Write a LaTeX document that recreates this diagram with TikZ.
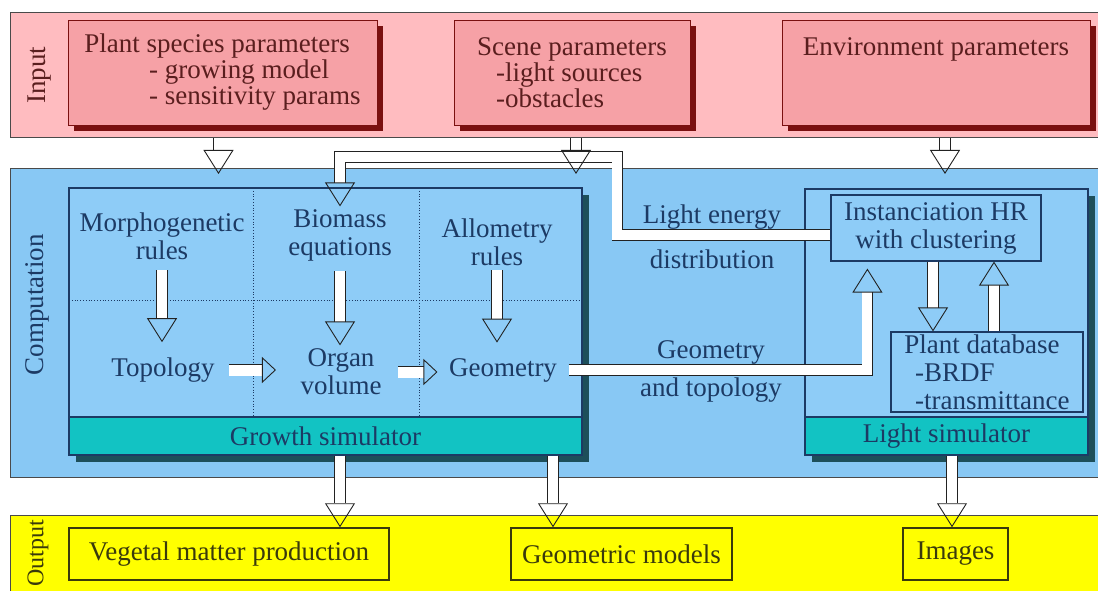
\documentclass[tikz,border=0pt]{standalone}
\usepackage{fontspec}
\setmainfont{Liberation Serif}
\usetikzlibrary{arrows.meta,positioning,shadows}
\definecolor{inpink}{HTML}{FFBCC0}
\definecolor{boxpink}{HTML}{F6A1A6}
\definecolor{boxshadow}{HTML}{7A1010}
\definecolor{inktext}{HTML}{5A1E1E}
\definecolor{compblue}{HTML}{88C8F4}
\definecolor{panelblue}{HTML}{8ECCF7}
\definecolor{navy}{HTML}{1C3A64}
\definecolor{tealshadow}{HTML}{1D4F5A}
\definecolor{simteal}{HTML}{12C3C3}
\definecolor{outyellow}{HTML}{FFFF00}
\definecolor{olive}{HTML}{3A3A0C}
\definecolor{bandline}{HTML}{4A4A4A}
\definecolor{arrowline}{HTML}{222222}
\newcommand{\txt}{\fontsize{27}{28}\selectfont}
\newcommand{\intxt}{\fontsize{27}{26}\selectfont}

\begin{document}
\begin{tikzpicture}[x=1pt,y=-1pt,
  band/.style={draw=bandline, line width=1.2pt, minimum width=1094pt, anchor=north west, inner sep=0pt},
  bandlabel/.style={rotate=90, font=\txt},
  inbox/.style={draw=boxshadow, line width=0.8pt, fill=boxpink, text=inktext, font=\intxt, inner sep=0pt,
    drop shadow={shadow xshift=6pt, shadow yshift=-6pt, fill=boxshadow, opacity=1}},
  panel/.style={draw=navy, line width=1.2pt, fill=panelblue, inner sep=0pt,
    drop shadow={shadow xshift=7pt, shadow yshift=-7pt, fill=tealshadow, opacity=1}},
  simbar/.style={draw=navy, line width=1.2pt, fill=simteal, text=navy, font=\txt, inner sep=0pt},
  plainbox/.style={draw=navy, line width=1.2pt, fill=panelblue, text=navy, font=\txt, inner sep=0pt},
  comptext/.style={text=navy, font=\txt, align=center},
  outbox/.style={draw=olive, line width=1.5pt, text=olive, font=\txt, inner sep=0pt},
  cellline/.style={draw=navy, line width=0.8pt, dotted},
  fatarrow/.style={draw=arrowline, line width=0.9pt, double=white, double distance=10pt, line join=miter,
    -{Triangle[open, length=24pt, width=30pt]}},
  smallarrow/.style={fatarrow, double distance=11pt, -{Triangle[open, length=14pt, width=26pt]}}
]
\useasboundingbox (0,0) rectangle (1098,591);
\clip (0,0) rectangle (1098,591);

%%% bands
\node[band, fill=inpink, minimum height=125pt] (inband) at (10,12) {};
\node[band, fill=compblue, minimum height=309pt] (compband) at (10,168) {};
\node[band, fill=outyellow, minimum height=100pt] (outband) at (10,515) {};
\node[bandlabel, text=inktext] (inlabel) at (40,75) {Input};
\node[bandlabel, text=navy] (complabel) at (37,305) {Computation};
\node[bandlabel, text=olive, font=\fontsize{24}{24}\selectfont, inner sep=0pt] (outlabel) at (38,553) {Output};

%%% input
\node[inbox, align=left, minimum width=309pt, minimum height=105pt] (plant) at (222.5,72.5)
  {Plant species parameters\\\hspace*{2.4em}- growing model\\\hspace*{2.4em}- sensitivity params};
\node[inbox, align=left, minimum width=236pt, minimum height=105pt] (scene) at (572,72.5)
  {Scene parameters\\\hspace*{0.7em}-light sources\\\hspace*{0.7em}-obstacles};
\node[inbox, align=center, minimum width=308pt, minimum height=105pt] (env) at (936,72.5)
  {Environment parameters\\\mbox{}\\\mbox{}};

%%% growth simulator
\node[panel, minimum width=513pt, minimum height=267pt] (growth) at (325.5,321.5) {};
\node[simbar, minimum width=513pt, minimum height=38pt, anchor=south] (growthsim) at (growth.south) {Growth simulator};
\draw[cellline] (253,188) -- (253,417);
\draw[cellline] (419,188) -- (419,417);
\draw[cellline] (69,300) -- (582,300);
\node[comptext] (morph) at (162,236) {Morphogenetic\\rules};
\node[comptext] (biomass) at (340,235) {Biomass\\equations};
\node[comptext] (allom) at (497,242) {Allometry\\rules};
\node[comptext] (topo) at (163,370) {Topology};
\node[comptext] (organ) at (341,372) {Organ\\volume};
\node[comptext] (geom) at (503,370) {Geometry};

%%% light simulator
\node[panel, minimum width=283pt, minimum height=266pt] (light) at (946.5,322) {};
\node[simbar, minimum width=283pt, minimum height=38pt, anchor=south] (lightsim) at (light.south) {Light simulator};
\node[plainbox, align=center, minimum width=210pt, minimum height=66pt] (inst) at (936,228)
  {Instanciation HR\\with clustering};
\node[plainbox, align=left, minimum width=192pt, minimum height=80pt] (dbase) at (987,372)
  {Plant database\\\hspace*{0.4em}-BRDF\\\hspace*{0.4em}-transmittance};

\node[comptext] (letext) at (712,237) {Light energy\\[17pt]distribution};
\node[comptext] (gttext) at (711,371) {Geometry\\[10pt]and topology};

%%% output
\node[outbox, minimum width=320pt, minimum height=52pt] (veg) at (229,554) {Vegetal matter production};
\node[outbox, minimum width=221pt, minimum height=52pt] (geommod) at (621.5,554) {Geometric models};
\node[outbox, minimum width=105pt, minimum height=52pt] (images) at (955.5,554) {Images};

%%% arrows
\draw[fatarrow, shorten <=7pt, shorten >=12pt] (morph.south) -- (morph.south |- topo.north);
\draw[fatarrow, shorten <=7pt] (biomass.south) -- (biomass.south |- organ.north);
\draw[fatarrow, shorten <=1pt, shorten >=12pt] (allom.south) -- (allom.south |- geom.north);
\draw[smallarrow, shorten <=11pt, shorten >=21pt] (topo.east) -- (topo.east -| organ.west);
\draw[smallarrow, shorten <=13pt, shorten >=8pt] (organ.east) -- (organ.east -| geom.west);

\draw[fatarrow, shorten <=8pt, shorten >=7pt] (geom.east) -| ([xshift=37pt]inst.south west);
\draw[fatarrow] ([yshift=-7pt]inst.west) -- ++(-213,0) -- ++(0,-78) -| ([yshift=-19pt]biomass.north |- growth.north);
\draw[fatarrow] ([xshift=-3pt]inst.south) -- ([xshift=-3pt]inst.south |- dbase.north);
\draw[fatarrow] ([xshift=58pt]inst.south |- dbase.north) -- ([xshift=58pt]inst.south);

\draw[fatarrow] ([xshift=-4pt]plant.south |- inband.south) -- ([xshift=-4pt,yshift=-6pt]plant.south |- compband.north);
\draw[fatarrow] ([xshift=4pt]scene.south |- inband.south) -- ([xshift=4pt,yshift=-6pt]scene.south |- compband.north);
\draw[fatarrow] ([xshift=9pt]env.south |- inband.south) -- ([xshift=9pt,yshift=-6pt]env.south |- compband.north);

\draw[fatarrow] ([xshift=14.5pt]growth.south) -- ([xshift=14.5pt]growth.south |- veg.north);
\draw[fatarrow] ([xshift=227.5pt]growth.south) -- ([xshift=227.5pt]growth.south |- geommod.north);
\draw[fatarrow] ([xshift=5.5pt]light.south) -- ([xshift=5.5pt]light.south |- images.north);
\end{tikzpicture}
\end{document}
